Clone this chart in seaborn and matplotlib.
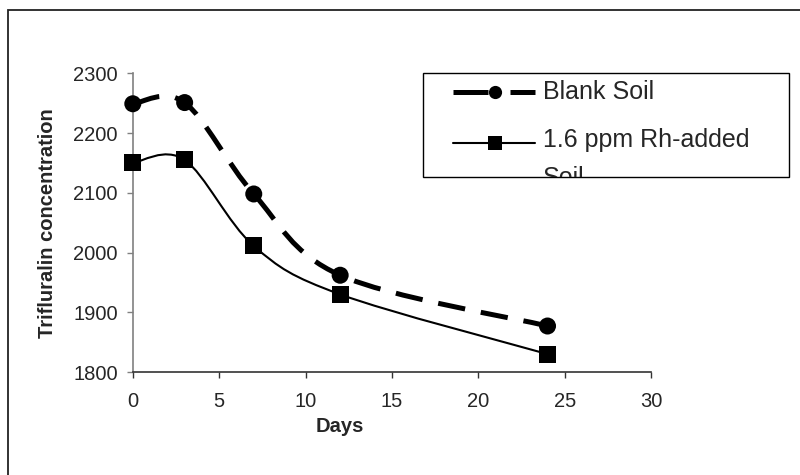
import numpy as np
import pandas as pd
import seaborn as sns
import matplotlib.pyplot as plt
from matplotlib.path import Path
from matplotlib.patches import PathPatch, Rectangle
from matplotlib.lines import Line2D

# data
days = [0, 3, 7, 12, 24]
blank_soil = [2249, 2251, 2098, 1962, 1877]
rh_soil = [2150, 2155, 2011, 1930, 1830]
series_names = ['Blank Soil', '1.6 ppm Rh-added Soil']
x_ticks = [0, 5, 10, 15, 20, 25, 30]
y_ticks = [1800, 1900, 2000, 2100, 2200, 2300]

df = pd.DataFrame({
    'Days': days * 2,
    'conc': blank_soil + rh_soil,
    'series': [series_names[0]] * len(days) + [series_names[1]] * len(days),
})

sns.set_style('white')
plt.rcParams['font.family'] = ['Liberation Sans', 'DejaVu Sans']


def smooth_path(xs, ys):
    # Excel style smoothed line: Catmull-Rom segments as cubic Bezier curves
    pts = np.column_stack([xs, ys]).astype(float)
    ext = np.vstack([pts[0], pts, pts[-1]])
    verts = [tuple(pts[0])]
    codes = [Path.MOVETO]
    for i in range(1, len(ext) - 2):
        p0, p1, p2, p3 = ext[i - 1], ext[i], ext[i + 1], ext[i + 2]
        verts += [tuple(p1 + (p2 - p0) / 6), tuple(p2 - (p3 - p1) / 6), tuple(p2)]
        codes += [Path.CURVE4] * 3
    return Path(verts, codes)


fig = plt.figure(figsize=(8, 4.75), dpi=100)
ax = fig.add_axes([0.166, 0.2168, 0.648, 0.6289])

# lines
ax.add_patch(PathPatch(smooth_path(days, blank_soil), fill=False, ec='black',
                       lw=3.6, ls=(0, (5.5, 3.2)), capstyle='butt', zorder=2))
ax.add_patch(PathPatch(smooth_path(days, rh_soil), fill=False, ec='black',
                       lw=1.5, zorder=2))

# markers
sns.scatterplot(data=df, x='Days', y='conc', hue='series', style='series',
                markers={series_names[0]: 'o', series_names[1]: 's'},
                palette={series_names[0]: 'black', series_names[1]: 'black'},
                s=150, linewidth=0, legend=False, ax=ax, zorder=3, clip_on=False)

ax.set_xlim(0, 30)
ax.set_ylim(1800, 2300)
ax.set_xticks(x_ticks)
ax.set_yticks(y_ticks)
ax.tick_params(axis='both', labelsize=14.5, length=4.3, width=1, direction='out')
ax.tick_params(axis='x', pad=10, color='#333333')
ax.tick_params(axis='y', pad=6.5, color='#808080')
ax.xaxis.set_ticks_position('bottom')
ax.yaxis.set_ticks_position('left')
for side in ['top', 'right']:
    ax.spines[side].set_visible(False)
ax.spines['left'].set_color('#808080')
ax.spines['bottom'].set_color('#333333')
ax.spines['left'].set_linewidth(1.2)
ax.spines['bottom'].set_linewidth(1.2)

ax.set_xlabel('Days', fontsize=14.5, fontweight='bold')
ax.set_ylabel('Trifluralin concentration', fontsize=14.5, fontweight='bold')
ax.xaxis.set_label_coords(0.399, -0.152)
ax.yaxis.set_label_coords(-0.147, 0.5)

# outer chart frame (runs off the right and bottom edges)
fig.patches.append(Rectangle((0.010, -0.5), 2, 1.479, transform=fig.transFigure,
                             fill=False, ec='#222222', lw=1.3))

# legend box, its second label is cut off at the bottom like in the original
W, H = 800, 475
box = Rectangle((423 / W, 1 - 177 / H), (789 - 423) / W, (177 - 73) / H,
                transform=fig.transFigure, fill=False, ec='black', lw=1.0)
fig.patches.append(box)

leg_rows = [(92, (0, (7, 4.4, 5, 2)), 3.6, 'o', series_names[0]),
            (143, '-', 1.5, 's', '1.6 ppm Rh-added\nSoil')]
for yy, ls, lw, mk, label in leg_rows:
    fy = 1 - yy / H
    fig.lines.append(Line2D([453 / W, 535 / W], [fy, fy], transform=fig.transFigure,
                            color='black', lw=lw, ls=ls, dash_capstyle='butt'))
    fig.lines.append(Line2D([495 / W], [fy], transform=fig.transFigure, color='black',
                            marker=mk, ms=9.5, mew=0, ls='none'))
    if '\n' in label:
        t = fig.text(543 / W, fy + 15 / H, label, fontsize=18, va='top', ha='left',
                     linespacing=1.75)
    else:
        t = fig.text(543 / W, fy, label, fontsize=18, va='center', ha='left')
    t.set_clip_on(True)
    t.set_clip_path(box)

fig.savefig('out.png', dpi=100)
